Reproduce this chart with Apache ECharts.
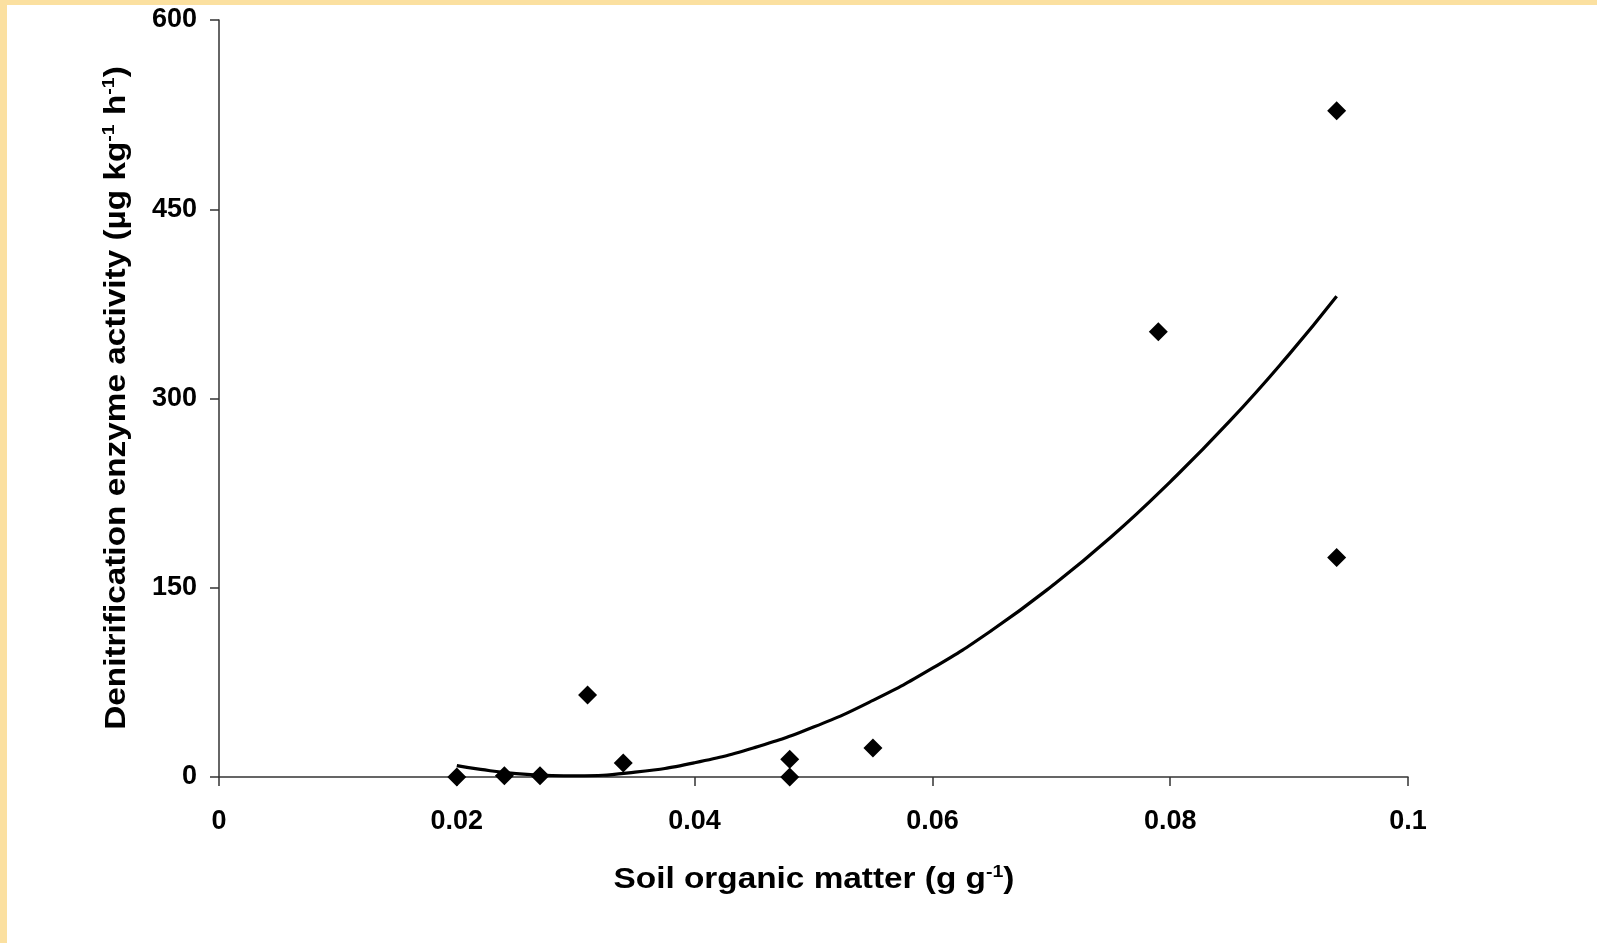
<!DOCTYPE html>
<html>
<head>
<meta charset="utf-8">
<script src="https://cdn.jsdelivr.net/npm/echarts@6/dist/echarts.min.js"></script>
<style>
html,body{margin:0;padding:0;background:#fff;}
#chart{width:1597px;height:943px;}
</style>
</head>
<body>
<div id="chart"></div>
<script>
// Measured points (soil organic matter g/g, denitrification enzyme activity)
const somX = [0.020, 0.024, 0.027, 0.031, 0.034, 0.048, 0.048, 0.055, 0.079, 0.094, 0.094];
const deaY = [0, 1, 1, 65, 11, 14, 0, 23, 353, 528, 174];
// Trend line
const trendX = [0.020, 0.022, 0.025, 0.028, 0.030, 0.035, 0.040, 0.045, 0.050, 0.055, 0.060, 0.065, 0.070, 0.075, 0.080, 0.085, 0.090, 0.094];
const trendY = [9, 6, 2.7, 1.2, 1.0, 3.9, 11.3, 23.2, 39.6, 60.7, 86.2, 116.3, 151, 190, 234, 282, 335, 381];
const xTicks = [0, 0.02, 0.04, 0.06, 0.08, 0.1];
const yTicks = [0, 150, 300, 450, 600];
const xTitle = 'Soil organic matter (g g{sup|-1})';
const yTitle = 'Denitrification enzyme activity (µg kg{sup|-1} h{sup|-1})';

const chart = echarts.init(document.getElementById('chart'));
const FONT = '"Liberation Sans", Arial, sans-serif';
const titleStyle = (text) => ({
  text: text, fill: '#000', fontFamily: FONT, fontWeight: 'bold', fontSize: 29,
  align: 'center', verticalAlign: 'middle',
  rich: {sup: {fontSize: 17, fontWeight: 'bold', fontFamily: FONT, fill: '#000', verticalAlign: 'top', padding: [0, 0, 16, 0]}}
});
chart.setOption({
  backgroundColor: '#ffffff',
  animation: false,
  graphic: [
    {type: 'rect', shape: {x: 0, y: 0, width: 1597, height: 5}, style: {fill: '#fbe0a0'}},
    {type: 'rect', shape: {x: 0, y: 0, width: 7, height: 943}, style: {fill: '#fbe0a0'}},
    {type: 'text', x: 814, y: 880, scaleX: 1.15, style: titleStyle(xTitle)},
    {type: 'text', x: 117, y: 398, rotation: Math.PI / 2, scaleX: 1.15, style: titleStyle(yTitle)}
  ],
  grid: {left: 219, right: 189, top: 20, bottom: 166, containLabel: false},
  xAxis: {
    type: 'value', min: 0, max: 0.1, interval: 0.02,
    axisLine: {lineStyle: {color: '#333', width: 1.5}},
    axisTick: {show: true, inside: false, length: 9, lineStyle: {color: '#333', width: 1.5}},
    axisLabel: {
      margin: 31, color: '#000', fontFamily: FONT, fontWeight: 'bold', fontSize: 27,
      formatter: v => { const m = xTicks.find(t => Math.abs(t - v) < 1e-9); return m === undefined ? '' : String(m); }
    },
    splitLine: {show: false}
  },
  yAxis: {
    type: 'value', min: 0, max: 600, interval: 150,
    axisLine: {show: true, lineStyle: {color: '#333', width: 1.5}},
    axisTick: {show: true, inside: false, length: 9, lineStyle: {color: '#333', width: 1.5}},
    axisLabel: {
      margin: 22, color: '#000', fontFamily: FONT, fontWeight: 'bold', fontSize: 27,
      formatter: v => { const m = yTicks.find(t => Math.abs(t - v) < 1e-9); return m === undefined ? '' : String(m); }
    },
    splitLine: {show: false}
  },
  series: [
    {
      type: 'line', data: trendX.map((x, i) => [x, trendY[i]]),
      smooth: true, showSymbol: false, symbol: 'none',
      lineStyle: {color: '#000', width: 3.2}, z: 2
    },
    {
      type: 'scatter', data: somX.map((x, i) => [x, deaY[i]]),
      symbol: 'diamond', symbolSize: [19, 19],
      itemStyle: {color: '#000', opacity: 1}, z: 3
    }
  ]
});
</script>
</body>
</html>
